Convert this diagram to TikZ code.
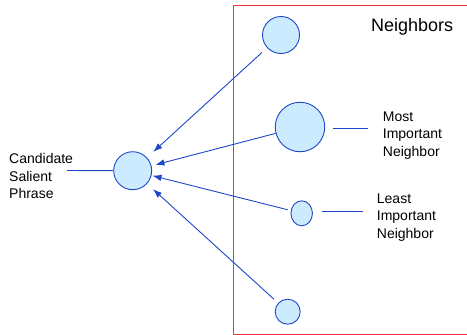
\documentclass[tikz,border=0pt]{standalone}
\usepackage{fontspec}
\setmainfont{Liberation Sans}
\usetikzlibrary{arrows.meta,shapes.geometric}
\definecolor{linkblue}{HTML}{1E46C8}
\definecolor{nodefill}{HTML}{CDEBFF}
\definecolor{boxred}{HTML}{F2343A}
\tikzset{
  phrase/.style={circle,draw=linkblue,fill=nodefill,line width=0.9pt,inner sep=0pt},
  phraseoval/.style={ellipse,draw=linkblue,fill=nodefill,line width=0.9pt,inner sep=0pt},
  link/.style={draw=linkblue,line width=0.9pt,-{Latex[length=9pt,width=6.5pt]}},
  leader/.style={draw=linkblue,line width=0.9pt},
  caption/.style={align=left,anchor=west,inner sep=0pt,font=\fontsize{14}{17.5}\selectfont},
}
\begin{document}
\begin{tikzpicture}[x=1pt,y=-1pt]
\useasboundingbox (0,0) rectangle (467,335);
% neighbourhood frame, open on the right
\draw[boxred,line width=1pt] (467,5) -- (233,5) -- (233,334) -- (467,334);
\node[anchor=west,inner sep=0pt,font=\fontsize{18}{20}\selectfont] (title) at (371,27) {Neighbors};

% phrases
\node[phrase,minimum size=38pt] (cand) at (132.7,170.7) {};
\node[phrase,minimum size=37pt] (top) at (281,35) {};
\node[phrase,minimum size=49.5pt] (most) at (300,127) {};
\node[phraseoval,minimum width=21.5pt,minimum height=25pt] (least) at (301.7,213.3) {};
\node[phrase,minimum size=25pt] (bottom) at (287.7,311.7) {};

% labels
\node[caption] (candlabel) at (9,176) {Candidate\\Salient\\Phrase};
\node[caption] (mostlabel) at (382.7,135.5) {Most\\Important\\Neighbor};
\node[caption] (leastlabel) at (376.7,217.5) {Least\\Important\\Neighbor};

% leader lines
\coordinate (candlead) at (67,170.5);
\coordinate (mostleadA) at (333,128);
\coordinate (mostleadB) at (368,128);
\coordinate (leastleadA) at (322,211);
\coordinate (leastleadB) at (363,211);
\draw[leader] (candlead) -- (cand.west);
\draw[leader] (mostleadA) -- (mostleadB);
\draw[leader] (leastleadA) -- (leastleadB);

% influence arrows
\draw[link,shorten <=7pt,shorten >=8.5pt] (top) -- (cand);
\draw[link,shorten >=4pt] (most) -- (cand);
\draw[link,shorten <=3pt,shorten >=1pt] (least) -- (cand);
\draw[link,shorten <=5.5pt,shorten >=8pt] (bottom) -- (cand);
\end{tikzpicture}
\end{document}
